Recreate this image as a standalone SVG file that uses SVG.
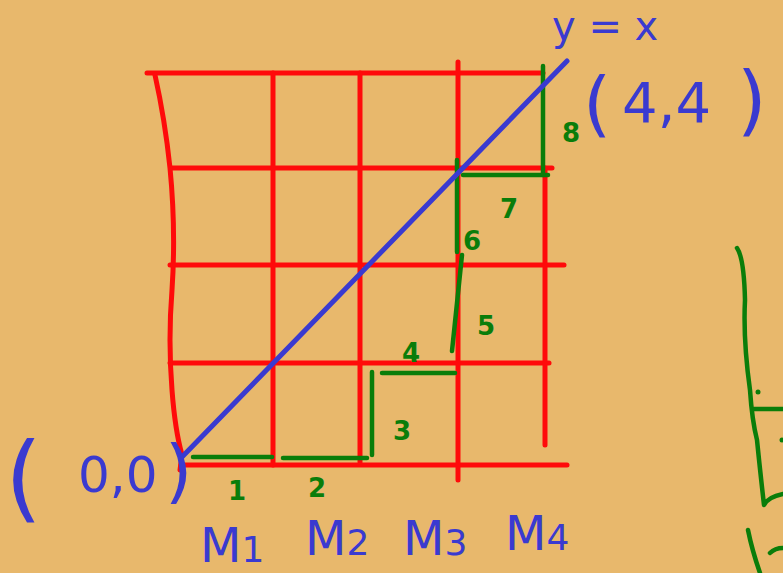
<svg xmlns="http://www.w3.org/2000/svg" width="783" height="573" viewBox="0 0 783 573">
<style>
.r{stroke:#ff0a0a;stroke-width:5;fill:none;stroke-linecap:round}
.g{stroke:#0a7d0a;stroke-width:4.5;fill:none;stroke-linecap:round;stroke-linejoin:round}
.b{stroke:#3a3ad0;stroke-width:5;fill:none;stroke-linecap:round}
.bt{fill:#3a3ad0;font-family:"DejaVu Sans",sans-serif}
.gt{fill:#0a7d0a;font-family:"DejaVu Sans",sans-serif;font-weight:bold;font-size:26px}
</style>
<rect width="783" height="573" fill="#e8b86c"/>
<g id="grid">
<path class="r" d="M147 73 L543 73"/>
<path class="r" d="M172 168 L552 168"/>
<path class="r" d="M170 265 L564 265"/>
<path class="r" d="M170 363 L549 363"/>
<path class="r" d="M181 465 L567 465"/>
<path class="r" d="M155 75 Q165 120 170 168 Q176 230 172 290 Q168 340 172 390 Q175 430 182 455 L180 470"/>
<path class="r" d="M273 73 L273 465"/>
<path class="r" d="M360 73 L360 462"/>
<path class="r" d="M458 62 L458 480"/>
<path class="r" d="M545 168 L545 445"/>
</g>
<g id="path">
<path class="g" d="M193 457 L272 457"/>
<path class="g" d="M283 458 L367 458"/>
<path class="g" d="M372 372 L372 455"/>
<path class="g" d="M382 373 L455 373"/>
<path class="g" d="M452 351 L462 255"/>
<path class="g" d="M457 160 L457 252"/>
<path class="g" d="M463 175 L548 175"/>
<path class="g" d="M543 66 L543 175"/>
</g>
<g id="diagonal">
<path class="b" d="M182 457 L567 61"/>
</g>
<g id="labels">
<text class="bt" x="552" y="40" font-size="40">y = x</text>
<text class="bt" x="583" y="128" font-size="72">(</text>
<text class="bt" x="622" y="122" font-size="56">4,4</text>
<text class="bt" x="737" y="126" font-size="76">)</text>
<text class="bt" x="5" y="510" font-size="95">(</text>
<text class="bt" x="78" y="492" font-size="50">0,0</text>
<text class="bt" x="165" y="495" font-size="70">)</text>
<text class="bt" x="200" y="562" font-size="48">M<tspan font-size="36">1</tspan></text>
<text class="bt" x="305" y="555" font-size="48">M<tspan font-size="36">2</tspan></text>
<text class="bt" x="403" y="555" font-size="48">M<tspan font-size="36">3</tspan></text>
<text class="bt" x="505" y="550" font-size="48">M<tspan font-size="36">4</tspan></text>
<text class="gt" x="228" y="500">1</text>
<text class="gt" x="308" y="497">2</text>
<text class="gt" x="393" y="440">3</text>
<text class="gt" x="402" y="362">4</text>
<text class="gt" x="477" y="335">5</text>
<text class="gt" x="463" y="250">6</text>
<text class="gt" x="500" y="218">7</text>
<text class="gt" x="562" y="142">8</text>
</g>
<g id="partial">
<path class="g" d="M737 248 Q744 258 745 300 Q743 340 750 390 Q752 420 757 440 Q760 470 764 505 Q768 497 783 494"/>
<path class="g" d="M754 409 L783 409"/>
<circle cx="758" cy="392" r="2.5" fill="#0a7d0a"/>
<circle cx="782" cy="440" r="2.5" fill="#0a7d0a"/>
<path class="g" d="M748 530 Q752 550 760 573"/>
<path class="g" d="M770 553 Q775 548 783 548"/>
</g>
</svg>
